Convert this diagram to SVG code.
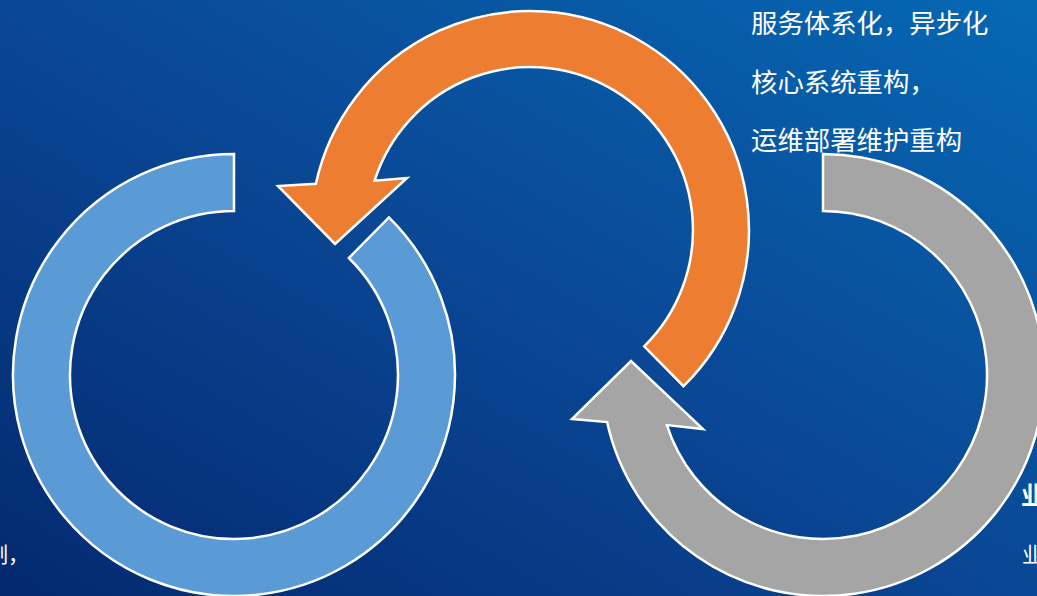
<svg xmlns="http://www.w3.org/2000/svg" width="1037" height="596" viewBox="0 0 1037 596">
  <defs>
    <linearGradient id="bg" x1="0" y1="1" x2="1" y2="0">
      <stop offset="0" stop-color="#03296f"/>
      <stop offset="0.5" stop-color="#0a4795"/>
      <stop offset="1" stop-color="#0668b3"/>
    </linearGradient>
    <style>
      .arc { stroke: #ffffff; stroke-width: 2.5; stroke-linejoin: miter; }
      .txt { font-family: "Noto Sans CJK SC", "Liberation Sans", sans-serif; fill: #ffffff; }
    </style>
  </defs>
  <rect x="0" y="0" width="1037" height="596" fill="url(#bg)"/>

  <g id="connectors"></g>

  <g id="node-blue">
    <path class="arc" fill="#5b9bd5" d="M 234 154 A 221 221 0 1 0 388.9 217.4 L 348.9 258 A 164 164 0 1 1 234 211 Z"/>
  </g>

  <g id="node-orange">
    <path class="arc" fill="#ed7d31" d="M 315.9 183.7 A 219 219 0 1 1 683.5 386.2 L 644.2 346.3 A 163 163 0 1 0 374.6 180.7 L 407 178 L 335 244 L 278 186 Z"/>
  </g>

  <g id="node-gray">
    <path class="arc" fill="#a5a5a5" d="M 823 154 A 221 221 0 1 1 607.1 422.1 L 572 419 L 631 361 L 703 429 L 666.9 425.1 A 164 164 0 1 0 823 211 Z"/>
  </g>

  <g id="text-top-right" class="txt" font-size="26.4">
    <text x="751" y="33">服务体系化，异步化</text>
    <text x="751" y="92">核心系统重构，</text>
    <text x="751" y="150">运维部署维护重构</text>
  </g>

  <g id="text-right" class="txt">
    <text x="1021" y="504" font-size="24" font-weight="bold">业</text>
    <text x="1022" y="562" font-size="21">业</text>
  </g>

  <g id="text-left" class="txt">
    <text x="29" y="562" font-size="21" text-anchor="end">制，</text>
  </g>
</svg>
